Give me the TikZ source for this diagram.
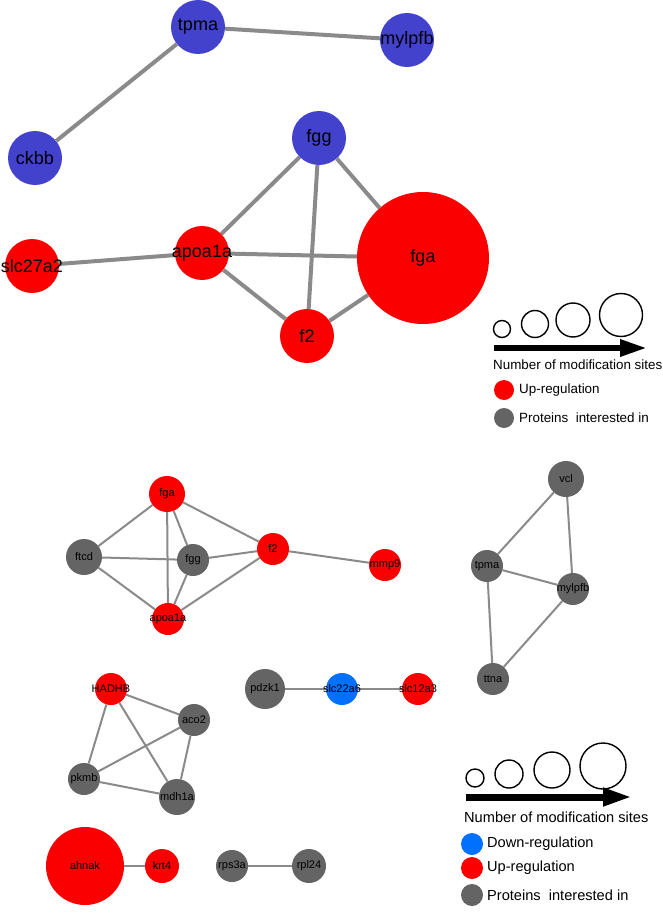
\documentclass[tikz,border=0pt]{standalone}
\usepackage{fontspec}
\setmainfont{Liberation Sans}
\usetikzlibrary{backgrounds,arrows.meta}
\definecolor{protblue}{RGB}{66,66,204}
\definecolor{downblue}{RGB}{0,112,255}
\definecolor{upred}{RGB}{250,0,0}
\definecolor{protgray}{RGB}{100,100,100}
\definecolor{edgegray}{RGB}{138,138,138}

\begin{document}
\begin{tikzpicture}[
    x=1pt,
    y=-1pt,
    prot/.style={circle,inner sep=0pt,minimum size=#1},
    prot/.default=32,
    topedge/.style={edgegray,line width=4pt},
    lowedge/.style={edgegray,line width=2pt},
    sizering/.style={circle,draw=black,line width=1.4pt,inner sep=0pt,minimum size=#1},
    legtext/.style={anchor=west,inner sep=0pt}
]

\useasboundingbox (0,0) rectangle (663,915);

% Upper network: nodes
\begin{scope}[every label/.style={font=\fontsize{18}{20}\selectfont,inner sep=0pt}]
\node[prot=54,fill=protblue,label=center:tpma]    (tpma)    at (198,27)  {};
\node[prot=54,fill=protblue,label=center:mylpfb]  (mylpfb)  at (407,40)  {};
\node[prot=54,fill=protblue,label=center:ckbb]    (ckbb)    at (35,158)  {};
\node[prot=54,fill=protblue,label=center:fgg]     (fgg)     at (319,138) {};
\node[prot=54,fill=upred,label=center:apoa1a]     (apoa1a)  at (202,253) {};
\node[prot=54,fill=upred,label=center:slc27a2]    (slc27a2) at (32,266)  {};
\node[prot=54,fill=upred,label=center:f2]         (f2)      at (307,336) {};
\node[prot=132,fill=upred,label=center:fga]       (fga)     at (423,258) {};
\end{scope}

% Upper network: edges
\begin{scope}[on background layer]
\foreach \a/\b in {tpma/mylpfb,tpma/ckbb,fgg/apoa1a,fgg/f2,fgg/fga,
                   slc27a2/apoa1a,apoa1a/fga,apoa1a/f2,f2/fga}{
    \draw[topedge] (\a) -- (\b);
}
\end{scope}

% Upper legend
\node[sizering=17] (ringA1) at (502,329) {};
\node[sizering=27] (ringA2) at (535,324) {};
\node[sizering=34] (ringA3) at (573,320) {};
\node[sizering=43] (ringA4) at (621,315) {};
\coordinate (arrA1) at (494,348);
\coordinate (arrA2) at (647,348);
\draw[line width=6pt,-{Triangle[length=27pt,width=16pt]}] (arrA1) -- (arrA2);
\begin{scope}[every node/.append style={font=\fontsize{13.4}{15}\selectfont}]
\node[legtext] (sitesA) at (493,365) {Number of modification sites};
\node[prot=20,fill=upred]    (upA)   at (504,390) {};
\node[legtext] (upAtext)   at (519,390) {Up-regulation};
\node[prot=20,fill=protgray] (grayA) at (504,418) {};
\node[legtext] (grayAtext) at (519,418) {Proteins\ \ interested in};
\end{scope}

% Lower networks: nodes
\begin{scope}[every label/.style={font=\fontsize{11}{13}\selectfont,inner sep=0pt}]
\node[prot=36,fill=upred,label=center:fga]        (lfga)    at (167,494) {};
\node[prot=36,fill=protgray,label=center:ftcd]    (lftcd)   at (84,557)  {};
\node[prot=32,fill=protgray,label=center:fgg]     (lfgg)    at (193,560) {};
\node[prot=32,fill=upred,label=center:f2]         (lf2)     at (273,549) {};
\node[prot=32,fill=upred,label=center:mmp9]       (lmmp9)   at (385,565) {};
\node[prot=32,fill=upred,label=center:apoa1a]     (lapoa1a) at (168,619) {};

\node[prot=36,fill=protgray,label=center:vcl]     (lvcl)    at (566,479) {};
\node[prot=32,fill=protgray,label=center:tpma]    (ltpma)   at (487,566) {};
\node[prot=32,fill=protgray,label=center:mylpfb]  (lmylpfb) at (573,589) {};
\node[prot=32,fill=protgray,label=center:ttna]    (lttna)   at (493,679) {};

\node[prot=32,fill=upred,label=center:HADHB]      (lhadhb)  at (111,689) {};
\node[prot=32,fill=protgray,label=center:aco2]    (laco2)   at (194,720) {};
\node[prot=32,fill=protgray,label=center:pkmb]    (lpkmb)   at (84,779)  {};
\node[prot=36,fill=protgray,label=center:mdh1a]   (lmdh1a)  at (177,797) {};

\node[prot=40,fill=protgray,label=center:pdzk1]   (lpdzk1)  at (265,689) {};
\node[prot=32,fill=downblue,label=center:slc22a6] (lslc22a6) at (342,689) {};
\node[prot=32,fill=upred,label=center:slc12a3]    (lslc12a3) at (418,689) {};

\node[prot=78,fill=upred,label=center:ahnak]      (lahnak)  at (85,866)  {};
\node[prot=34,fill=upred,label=center:krt4]       (lkrt4)   at (162,866) {};
\node[prot=32,fill=protgray,label=center:rps3a]   (lrps3a)  at (232,866) {};
\node[prot=34,fill=protgray,label=center:rpl24]   (lrpl24)  at (309,866) {};
\end{scope}

% Lower networks: edges
\begin{scope}[on background layer]
\foreach \a/\b in {lfga/lftcd,lfga/lapoa1a,lfga/lfgg,lfga/lf2,lftcd/lfgg,
                   lftcd/lapoa1a,lfgg/lf2,lfgg/lapoa1a,lf2/lapoa1a,lf2/lmmp9,
                   lvcl/ltpma,lvcl/lmylpfb,ltpma/lmylpfb,ltpma/lttna,lmylpfb/lttna,
                   lhadhb/laco2,lhadhb/lpkmb,lhadhb/lmdh1a,laco2/lpkmb,laco2/lmdh1a,
                   lpkmb/lmdh1a,lpdzk1/lslc22a6,lslc22a6/lslc12a3,
                   lahnak/lkrt4,lrps3a/lrpl24}{
    \draw[lowedge] (\a) -- (\b);
}
\end{scope}

% Lower legend
\node[sizering=18] (ringB1) at (475,778) {};
\node[sizering=28] (ringB2) at (509,774) {};
\node[sizering=36] (ringB3) at (552,770) {};
\node[sizering=46] (ringB4) at (603,766) {};
\coordinate (arrB1) at (466,797);
\coordinate (arrB2) at (632,797);
\draw[line width=7pt,-{Triangle[length=29pt,width=17pt]}] (arrB1) -- (arrB2);
\begin{scope}[every node/.append style={font=\fontsize{14.6}{16}\selectfont}]
\node[legtext] (sitesB) at (464,817) {Number of modification sites};
\node[prot=22,fill=downblue] (downB) at (472,844) {};
\node[legtext] (downBtext) at (487,844) {Down-regulation};
\node[prot=22,fill=upred]    (upB)   at (472,868) {};
\node[legtext] (upBtext)   at (487,868) {Up-regulation};
\node[prot=22,fill=protgray] (grayB) at (472,895) {};
\node[legtext] (grayBtext) at (487,895) {Proteins\ \ interested in};
\end{scope}

\end{tikzpicture}
\end{document}
